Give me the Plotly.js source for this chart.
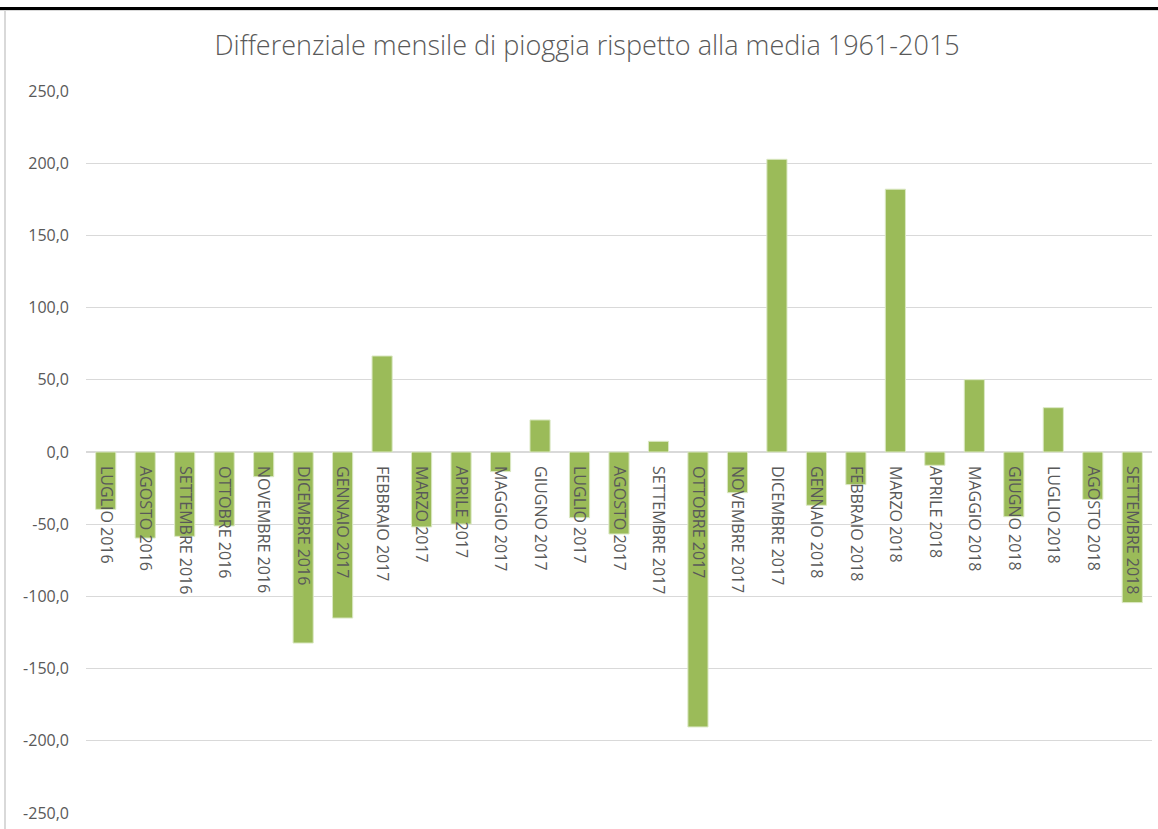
<!DOCTYPE html>
<html>
<head>
<meta charset="utf-8">
<script src="https://cdn.plot.ly/plotly-3.0.1.min.js"></script>
<style>
  html, body { margin: 0; padding: 0; background: #ffffff; }
  #wrap { position: relative; width: 1158px; height: 829px; overflow: hidden; }
  #chart { position: absolute; left: 0; top: 0; width: 1158px; height: 829px; }
  #topbar { position: absolute; left: 0; top: 7px; width: 1158px; height: 3px; background: #000; pointer-events: none; }
  #topgrey { position: absolute; left: 0; top: 10px; width: 1158px; height: 1px; background: #d9d9d9; pointer-events: none; }
  #leftgrey { position: absolute; left: 4px; top: 11px; width: 2px; height: 820px; background: #d9d9d9; pointer-events: none; }
</style>
</head>
<body>
<div id="wrap">
  <div id="chart"></div>
  <div id="topbar"></div>
  <div id="topgrey"></div>
  <div id="leftgrey"></div>
</div>
<script>
const months = [
  "LUGLIO 2016", "AGOSTO 2016", "SETTEMBRE 2016", "OTTOBRE 2016", "NOVEMBRE 2016",
  "DICEMBRE 2016", "GENNAIO 2017", "FEBBRAIO 2017", "MARZO 2017", "APRILE 2017",
  "MAGGIO 2017", "GIUGNO 2017", "LUGLIO 2017", "AGOSTO 2017", "SETTEMBRE 2017",
  "OTTOBRE 2017", "NOVEMBRE 2017", "DICEMBRE 2017", "GENNAIO 2018", "FEBBRAIO 2018",
  "MARZO 2018", "APRILE 2018", "MAGGIO 2018", "GIUGNO 2018", "LUGLIO 2018",
  "AGOSTO 2018", "SETTEMBRE 2018"
];
const differenziale = [
  -39.7, -59.6, -58.4, -51.2, -17.1,
  -132.3, -115.0, 66.5, -51.9, -49.9,
  -13.6, 22.2, -45.5, -56.8, 7.4,
  -190.4, -28.2, 202.7, -36.9, -22.6,
  182.0, -9.2, 50.1, -44.8, 30.7,
  -32.8, -104.3
];
const yTicks = [-250, -200, -150, -100, -50, 0, 50, 100, 150, 200, 250];
const yTickLabels = ["-250,0", "-200,0", "-150,0", "-100,0", "-50,0", "0,0", "50,0", "100,0", "150,0", "200,0", "250,0"];
const chartTitle = "Differenziale mensile di pioggia rispetto alla media 1961-2015";

const textColor = "#595959";
const gridColor = "#d9d9d9";
const fontFam = "'Open Sans', 'Noto Sans', sans-serif";

const trace = {
  type: "bar",
  x: months,
  y: differenziale,
  marker: { color: "#9bbb59", line: { color: "#dbe8c4", width: 1 } },
  hoverinfo: "x+y"
};

const layout = {
  width: 1158,
  height: 829,
  margin: { l: 86, r: 6, t: 91, b: 16, pad: 0 },
  paper_bgcolor: "rgba(0,0,0,0)",
  plot_bgcolor: "rgba(0,0,0,0)",
  showlegend: false,
  bargap: 0.49,
  font: { family: fontFam, color: textColor, size: 16 },
  title: {
    text: chartTitle,
    font: { family: fontFam, size: 27, color: textColor, weight: 300 },
    x: 0.507, xref: "container", xanchor: "center",
    y: 1 - 46 / 829, yref: "container", yanchor: "middle"
  },
  xaxis: {
    type: "category",
    categoryorder: "array",
    categoryarray: months,
    anchor: "free",
    position: 0.5,
    showline: false,
    showgrid: false,
    zeroline: false,
    ticks: "",
    tickangle: 90,
    ticklabelstandoff: 13,
    tickfont: { family: fontFam, size: 16, color: textColor },
    layer: "above traces"
  },
  yaxis: {
    range: [-250, 250],
    tickmode: "array",
    tickvals: yTicks,
    ticktext: yTickLabels,
    showgrid: true,
    gridcolor: gridColor,
    gridwidth: 1,
    zeroline: true,
    zerolinecolor: gridColor,
    zerolinewidth: 2,
    showline: false,
    ticks: "",
    ticklabelstandoff: 16,
    tickfont: { family: fontFam, size: 16, color: textColor },
    fixedrange: true
  }
};

Plotly.newPlot("chart", [trace], layout, { displayModeBar: false, staticPlot: true });
</script>
</body>
</html>
